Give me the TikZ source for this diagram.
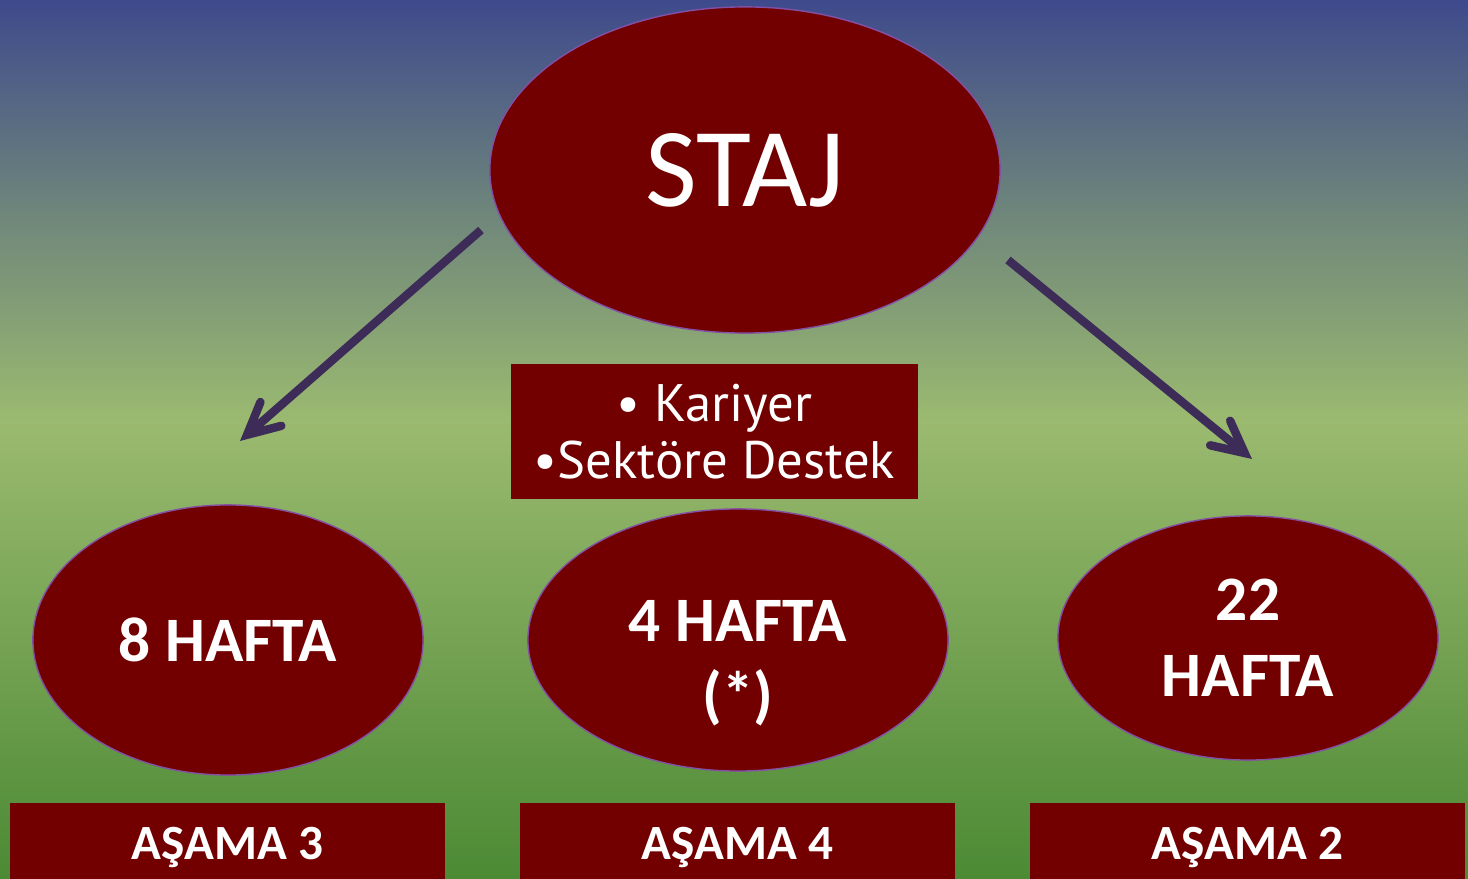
\documentclass[tikz,border=0pt]{standalone}
\usepackage{xcolor}
\usepackage{fontspec}
\setmainfont{Carlito}
\newfontfamily\boxfont{PT Sans}
\usepackage{tikz}
\usetikzlibrary{arrows.meta, shapes.geometric}
\tikzset{
	oval/.style = {ellipse, align=center, inner sep=0pt, text=white, fill=darkred, draw=ovaledge, line width=0.4pt},
	week/.style = {oval, font=\fontsize{18}{21.5}\selectfont\bfseries},
	phase/.style = {rectangle, inner sep=0pt, fill=darkred, text=white, minimum width=4.35cm, minimum height=0.88cm, font=\fontsize{14}{16}\selectfont\bfseries},
	infobox/.style = {rectangle, align=center, inner sep=0pt, fill=darkred, text=white, minimum width=4.07cm, minimum height=1.35cm, font=\boxfont\fontsize{15}{16.2}\selectfont},
	flow/.style = {draw=arrowcol, line width=2.4pt, -{Straight Barb[length=9pt, width=9pt, line cap=round]}},
}
\definecolor{darkred}{RGB}{115, 0, 0}
\definecolor{ovaledge}{RGB}{130, 80, 165}
\definecolor{arrowcol}{RGB}{62, 44, 88}
\definecolor{bgtop}{RGB}{62, 74, 140}
\definecolor{bgmid}{RGB}{110, 133, 123}
\definecolor{bglight}{RGB}{155, 186, 112}
\definecolor{bgbot}{RGB}{76, 138, 52}

\begin{document}
\begin{tikzpicture}[x=0.01cm, y=-0.01cm]
	\useasboundingbox (0,0) rectangle (1468,879);
	% background
	\fill[top color=bgtop, bottom color=bgmid] (0,0) rectangle (1468,210);
	\fill[top color=bgmid, bottom color=bglight] (0,209) rectangle (1468,420);
	\fill[top color=bglight, bottom color=bgbot] (0,419) rectangle (1468,879);

	\node[oval, minimum width=5.1cm, minimum height=3.26cm, font=\fontsize{32}{36}\selectfont] (staj) at (745, 170) {STAJ};

	\node[infobox] (info) at (714.5, 431.5) {• Kariyer\\•Sektöre Destek};

	\node[week, minimum width=3.9cm, minimum height=2.7cm] (w1) at (228, 640) {8 HAFTA};
	\node[week, minimum width=4.2cm, minimum height=2.62cm] (w2) at (738, 640) {\rule{0pt}{25pt}4 HAFTA\\(*)};
	\node[week, minimum width=3.8cm, minimum height=2.44cm] (w3) at (1248, 638) {22\\HAFTA};

	% bottom boxes run off the lower edge
	\node[phase] (a1) at (227.5, 847) {AŞAMA 3};
	\node[phase] (a2) at (737.5, 847) {AŞAMA 4};
	\node[phase] (a3) at (1247.5, 847) {AŞAMA 2};

	\coordinate (l0) at (481, 230);
	\coordinate (l1) at (240, 441);
	\coordinate (r0) at (1008, 260);
	\coordinate (r1) at (1252, 459);

	\path (l0) edge[flow] (l1);
	\path (r0) edge[flow] (r1);
\end{tikzpicture}
\end{document}
